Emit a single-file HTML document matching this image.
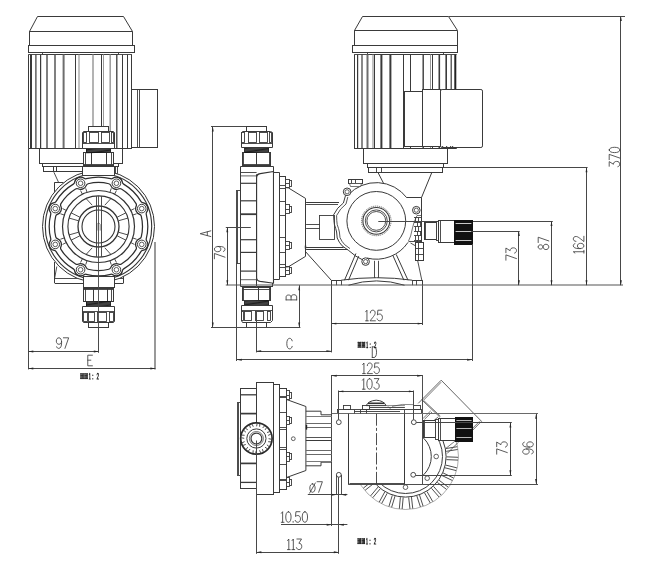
<!DOCTYPE html>
<html><head><meta charset="utf-8"><title>Pump drawing</title>
<style>
html,body{margin:0;padding:0;background:#fff;}
body{width:653px;height:569px;overflow:hidden;font-family:"Liberation Sans",sans-serif;}
svg{display:block;}
</style></head><body>
<svg width="653" height="569" viewBox="0 0 653 569">
<rect x="0" y="0" width="653" height="569" fill="#ffffff"/>
<path d="M37.5,16.5 L123.5,16.5 L132.5,31.5 L132.5,45.5 L29.5,45.5 L29.5,31.5 Z" stroke="#3a3a3a" stroke-width="1.0" fill="none"/>
<line x1="29.2" y1="31.5" x2="132.6" y2="31.5" stroke="#3a3a3a" stroke-width="1.0"/>
<rect x="28.5" y="45.5" width="106" height="7" stroke="#3a3a3a" stroke-width="1.0" fill="none"/>
<rect x="42.5" y="52.5" width="76" height="2" stroke="#3a3a3a" stroke-width="0.9" fill="none"/>
<line x1="28.3" y1="54.5" x2="131.9" y2="54.5" stroke="#3a3a3a" stroke-width="0.9"/>
<line x1="28.5" y1="54.5" x2="28.5" y2="148.7" stroke="#3a3a3a" stroke-width="1"/>
<line x1="31" y1="54.5" x2="31" y2="148.7" stroke="#3a3a3a" stroke-width="2"/>
<line x1="35.9" y1="54.5" x2="35.9" y2="148.7" stroke="#3a3a3a" stroke-width="1.2"/>
<line x1="40.6" y1="54.5" x2="40.6" y2="148.7" stroke="#3a3a3a" stroke-width="1.2"/>
<line x1="47" y1="54.5" x2="47" y2="148.7" stroke="#4a4a4a" stroke-width="1.4"/>
<line x1="55" y1="54.5" x2="55" y2="148.7" stroke="#4a4a4a" stroke-width="1.4"/>
<line x1="63.6" y1="54.5" x2="63.6" y2="148.7" stroke="#6e6e6e" stroke-width="2"/>
<line x1="75.5" y1="54.5" x2="75.5" y2="148.7" stroke="#3a3a3a" stroke-width="1"/>
<line x1="79" y1="54.5" x2="79" y2="148.7" stroke="#9a9a9a" stroke-width="1.2"/>
<line x1="93" y1="54.5" x2="93" y2="148.7" stroke="#9a9a9a" stroke-width="1.5"/>
<line x1="101.5" y1="54.5" x2="101.5" y2="148.7" stroke="#3a3a3a" stroke-width="1"/>
<line x1="103.5" y1="54.5" x2="103.5" y2="148.7" stroke="#9a9a9a" stroke-width="1"/>
<line x1="110.2" y1="54.5" x2="110.2" y2="148.7" stroke="#9a9a9a" stroke-width="1.5"/>
<line x1="116.8" y1="54.5" x2="116.8" y2="148.7" stroke="#3a3a3a" stroke-width="1.3"/>
<line x1="122.5" y1="54.5" x2="122.5" y2="148.7" stroke="#3a3a3a" stroke-width="1"/>
<line x1="127.5" y1="54.5" x2="127.5" y2="148.7" stroke="#3a3a3a" stroke-width="1"/>
<line x1="131.5" y1="54.5" x2="131.5" y2="148.7" stroke="#3a3a3a" stroke-width="1"/>
<line x1="28.3" y1="148.5" x2="131.9" y2="148.5" stroke="#3a3a3a" stroke-width="1.0"/>
<rect x="131.5" y="89.5" width="26" height="58" stroke="#3a3a3a" stroke-width="1.0" fill="none"/>
<line x1="137.5" y1="89.7" x2="137.5" y2="147.1" stroke="#3a3a3a" stroke-width="0.9"/>
<line x1="139.5" y1="89.7" x2="139.5" y2="147.1" stroke="#3a3a3a" stroke-width="0.9"/>
<rect x="39.5" y="148.5" width="83" height="15" stroke="#3a3a3a" stroke-width="1.0" fill="none"/>
<rect x="42.5" y="163.5" width="41" height="3" stroke="#3a3a3a" stroke-width="1.0" fill="none"/>
<rect x="43.5" y="166.5" width="40" height="5" stroke="#3a3a3a" stroke-width="1.0" fill="none"/>
<line x1="53.5" y1="166.8" x2="53.5" y2="171.9" stroke="#3a3a3a" stroke-width="1.0"/>
<line x1="56.5" y1="166.8" x2="56.5" y2="171.9" stroke="#3a3a3a" stroke-width="1.0"/>
<line x1="53.9" y1="172.2" x2="58.8" y2="182.9" stroke="#3a3a3a" stroke-width="0.9"/>
<rect x="113.5" y="163.5" width="5" height="3" stroke="#3a3a3a" stroke-width="1.0" fill="none"/>
<rect x="115.5" y="166.5" width="2" height="7" stroke="#3a3a3a" stroke-width="0.9" fill="none"/>
<line x1="54.5" y1="182.9" x2="54.5" y2="200" stroke="#3a3a3a" stroke-width="1.0"/>
<line x1="54.2" y1="182.5" x2="63.6" y2="182.5" stroke="#3a3a3a" stroke-width="1.0"/>
<line x1="54.5" y1="262" x2="54.5" y2="283" stroke="#3a3a3a" stroke-width="1.0"/>
<line x1="54.7" y1="283.5" x2="84" y2="283.5" stroke="#3a3a3a" stroke-width="1.0"/>
<line x1="56.8" y1="266.5" x2="54.7" y2="278" stroke="#3a3a3a" stroke-width="0.9"/>
<line x1="54.7" y1="278.5" x2="84" y2="278.5" stroke="#3a3a3a" stroke-width="0.9"/>
<line x1="114" y1="283.5" x2="123.5" y2="283.5" stroke="#3a3a3a" stroke-width="1.0"/>
<line x1="123.5" y1="275.6" x2="123.5" y2="283" stroke="#3a3a3a" stroke-width="1.0"/>
<line x1="114" y1="278.5" x2="123.5" y2="278.5" stroke="#3a3a3a" stroke-width="0.9"/>
<line x1="118.5" y1="268" x2="118.5" y2="278.2" stroke="#3a3a3a" stroke-width="0.9"/>
<circle cx="98.5" cy="226.5" r="56" stroke="#333" stroke-width="1.0" fill="#fff"/>
<circle cx="98.5" cy="226.5" r="53.2" stroke="#333" stroke-width="1.1" fill="none"/>
<path d="M146.27,238.68 A2.6,2.6 0 0,0 146.68,240.84 A6.1,6.1 0 0,1 142.71,250.43 A2.6,2.6 0 0,0 140.89,251.67 A49.3,49.3 0 0,1 123.67,268.89 A2.6,2.6 0 0,0 122.43,270.71 A6.1,6.1 0 0,1 112.84,274.68 A2.6,2.6 0 0,0 110.68,274.27 A49.3,49.3 0 0,1 86.32,274.27 A2.6,2.6 0 0,0 84.16,274.68 A6.1,6.1 0 0,1 74.57,270.71 A2.6,2.6 0 0,0 73.33,268.89 A49.3,49.3 0 0,1 56.11,251.67 A2.6,2.6 0 0,0 54.29,250.43 A6.1,6.1 0 0,1 50.32,240.84 A2.6,2.6 0 0,0 50.73,238.68 A49.3,49.3 0 0,1 50.73,214.32 A2.6,2.6 0 0,0 50.32,212.16 A6.1,6.1 0 0,1 54.29,202.57 A2.6,2.6 0 0,0 56.11,201.33 A49.3,49.3 0 0,1 73.33,184.11 A2.6,2.6 0 0,0 74.57,182.29 A6.1,6.1 0 0,1 84.16,178.32 A2.6,2.6 0 0,0 86.32,178.73 A49.3,49.3 0 0,1 110.68,178.73 A2.6,2.6 0 0,0 112.84,178.32 A6.1,6.1 0 0,1 122.43,182.29 A2.6,2.6 0 0,0 123.67,184.11 A49.3,49.3 0 0,1 140.89,201.33 A2.6,2.6 0 0,0 142.71,202.57 A6.1,6.1 0 0,1 146.68,212.16 A2.6,2.6 0 0,0 146.27,214.32 A49.3,49.3 0 0,1 146.27,238.68 Z" stroke="#2e2e2e" stroke-width="1.25" fill="none"/>
<path d="M141.26,236.86 A2.6,2.6 0 0,1 139.63,238.68 A6.1,6.1 0 0,0 136.2,246.97 A2.6,2.6 0 0,1 136.06,249.42 A44,44 0 0,1 121.42,264.06 A2.6,2.6 0 0,1 118.97,264.2 A6.1,6.1 0 0,0 110.68,267.63 A2.6,2.6 0 0,1 108.86,269.26 A44,44 0 0,1 88.14,269.26 A2.6,2.6 0 0,1 86.32,267.63 A6.1,6.1 0 0,0 78.03,264.2 A2.6,2.6 0 0,1 75.58,264.06 A44,44 0 0,1 60.94,249.42 A2.6,2.6 0 0,1 60.8,246.97 A6.1,6.1 0 0,0 57.37,238.68 A2.6,2.6 0 0,1 55.74,236.86 A44,44 0 0,1 55.74,216.14 A2.6,2.6 0 0,1 57.37,214.32 A6.1,6.1 0 0,0 60.8,206.03 A2.6,2.6 0 0,1 60.94,203.58 A44,44 0 0,1 75.58,188.94 A2.6,2.6 0 0,1 78.03,188.8 A6.1,6.1 0 0,0 86.32,185.37 A2.6,2.6 0 0,1 88.14,183.74 A44,44 0 0,1 108.86,183.74 A2.6,2.6 0 0,1 110.68,185.37 A6.1,6.1 0 0,0 118.97,188.8 A2.6,2.6 0 0,1 121.42,188.94 A44,44 0 0,1 136.06,203.58 A2.6,2.6 0 0,1 136.2,206.03 A6.1,6.1 0 0,0 139.63,214.32 A2.6,2.6 0 0,1 141.26,216.14 A44,44 0 0,1 141.26,236.86 Z" stroke="#2e2e2e" stroke-width="1.25" fill="none"/>
<circle cx="98.5" cy="226.5" r="36" stroke="#333" stroke-width="1.2" fill="none"/>
<circle cx="98.5" cy="226.5" r="30.6" stroke="#333" stroke-width="1.1" fill="none"/>
<circle cx="98.5" cy="226.5" r="20.5" stroke="#333" stroke-width="1.3" fill="none"/>
<circle cx="98.5" cy="226.5" r="16.5" stroke="#333" stroke-width="1.1" fill="none"/>
<line x1="132.83" y1="237.99" x2="136.62" y2="239.26" stroke="#3a3a3a" stroke-width="0.9"/>
<line x1="130.9" y1="242.65" x2="134.48" y2="244.44" stroke="#3a3a3a" stroke-width="0.9"/>
<line x1="114.65" y1="258.9" x2="116.44" y2="262.48" stroke="#3a3a3a" stroke-width="0.9"/>
<line x1="109.99" y1="260.83" x2="111.26" y2="264.62" stroke="#3a3a3a" stroke-width="0.9"/>
<line x1="87.01" y1="260.83" x2="85.74" y2="264.62" stroke="#3a3a3a" stroke-width="0.9"/>
<line x1="82.35" y1="258.9" x2="80.56" y2="262.48" stroke="#3a3a3a" stroke-width="0.9"/>
<line x1="66.1" y1="242.65" x2="62.52" y2="244.44" stroke="#3a3a3a" stroke-width="0.9"/>
<line x1="64.17" y1="237.99" x2="60.38" y2="239.26" stroke="#3a3a3a" stroke-width="0.9"/>
<line x1="64.17" y1="215.01" x2="60.38" y2="213.74" stroke="#3a3a3a" stroke-width="0.9"/>
<line x1="66.1" y1="210.35" x2="62.52" y2="208.56" stroke="#3a3a3a" stroke-width="0.9"/>
<line x1="82.35" y1="194.1" x2="80.56" y2="190.52" stroke="#3a3a3a" stroke-width="0.9"/>
<line x1="87.01" y1="192.17" x2="85.74" y2="188.38" stroke="#3a3a3a" stroke-width="0.9"/>
<line x1="109.99" y1="192.17" x2="111.26" y2="188.38" stroke="#3a3a3a" stroke-width="0.9"/>
<line x1="114.65" y1="194.1" x2="116.44" y2="190.52" stroke="#3a3a3a" stroke-width="0.9"/>
<line x1="130.9" y1="210.35" x2="134.48" y2="208.56" stroke="#3a3a3a" stroke-width="0.9"/>
<line x1="132.83" y1="215.01" x2="136.62" y2="213.74" stroke="#3a3a3a" stroke-width="0.9"/>
<line x1="86.5" y1="199" x2="92.2" y2="205.2" stroke="#3a3a3a" stroke-width="0.9"/>
<line x1="78.41" y1="220.74" x2="69.09" y2="218.07" stroke="#3a3a3a" stroke-width="0.9"/>
<line x1="79.8" y1="217.17" x2="71.12" y2="212.85" stroke="#3a3a3a" stroke-width="0.9"/>
<line x1="86.5" y1="254" x2="92.2" y2="247.8" stroke="#3a3a3a" stroke-width="0.9"/>
<line x1="78.41" y1="232.26" x2="69.09" y2="234.93" stroke="#3a3a3a" stroke-width="0.9"/>
<line x1="79.8" y1="235.83" x2="71.12" y2="240.15" stroke="#3a3a3a" stroke-width="0.9"/>
<line x1="110.5" y1="199" x2="104.8" y2="205.2" stroke="#3a3a3a" stroke-width="0.9"/>
<line x1="118.59" y1="220.74" x2="127.91" y2="218.07" stroke="#3a3a3a" stroke-width="0.9"/>
<line x1="117.2" y1="217.17" x2="125.88" y2="212.85" stroke="#3a3a3a" stroke-width="0.9"/>
<line x1="110.5" y1="254" x2="104.8" y2="247.8" stroke="#3a3a3a" stroke-width="0.9"/>
<line x1="118.59" y1="232.26" x2="127.91" y2="234.93" stroke="#3a3a3a" stroke-width="0.9"/>
<line x1="117.2" y1="235.83" x2="125.88" y2="240.15" stroke="#3a3a3a" stroke-width="0.9"/>
<circle cx="141.74" cy="244.41" r="4.3" stroke="#3a3a3a" stroke-width="1.0" fill="#fff"/>
<circle cx="141.74" cy="244.41" r="2.3" stroke="#444" stroke-width="0.85" fill="none"/>
<circle cx="116.41" cy="269.74" r="4.3" stroke="#3a3a3a" stroke-width="1.0" fill="#fff"/>
<circle cx="116.41" cy="269.74" r="2.3" stroke="#444" stroke-width="0.85" fill="none"/>
<circle cx="80.59" cy="269.74" r="4.3" stroke="#3a3a3a" stroke-width="1.0" fill="#fff"/>
<circle cx="80.59" cy="269.74" r="2.3" stroke="#444" stroke-width="0.85" fill="none"/>
<circle cx="55.26" cy="244.41" r="4.3" stroke="#3a3a3a" stroke-width="1.0" fill="#fff"/>
<circle cx="55.26" cy="244.41" r="2.3" stroke="#444" stroke-width="0.85" fill="none"/>
<circle cx="55.26" cy="208.59" r="4.3" stroke="#3a3a3a" stroke-width="1.0" fill="#fff"/>
<circle cx="55.26" cy="208.59" r="2.3" stroke="#444" stroke-width="0.85" fill="none"/>
<circle cx="80.59" cy="183.26" r="4.3" stroke="#3a3a3a" stroke-width="1.0" fill="#fff"/>
<circle cx="80.59" cy="183.26" r="2.3" stroke="#444" stroke-width="0.85" fill="none"/>
<circle cx="116.41" cy="183.26" r="4.3" stroke="#3a3a3a" stroke-width="1.0" fill="#fff"/>
<circle cx="116.41" cy="183.26" r="2.3" stroke="#444" stroke-width="0.85" fill="none"/>
<circle cx="141.74" cy="208.59" r="4.3" stroke="#3a3a3a" stroke-width="1.0" fill="#fff"/>
<circle cx="141.74" cy="208.59" r="2.3" stroke="#444" stroke-width="0.85" fill="none"/>
<line x1="96.5" y1="196.2" x2="96.5" y2="256.8" stroke="#3a3a3a" stroke-width="0.9"/>
<line x1="101.5" y1="196.2" x2="101.5" y2="256.8" stroke="#3a3a3a" stroke-width="0.9"/>
<line x1="98.5" y1="196" x2="98.5" y2="352.6" stroke="#484848" stroke-width="0.9"/>
<path d="M97.0,230.6 L97.0,224.6 Q98.6,221.4 100.2,224.6 L100.2,230.6" stroke="#3a3a3a" stroke-width="0.6" fill="none"/>
<rect x="82.5" y="166.5" width="32" height="9" stroke="#3a3a3a" stroke-width="1.0" fill="#fff"/>
<rect x="83.5" y="152.5" width="30" height="13" stroke="#3a3a3a" stroke-width="1.0" fill="#fff"/>
<line x1="85.5" y1="165.5" x2="85.5" y2="152.8" stroke="#3a3a3a" stroke-width="0.9"/>
<line x1="111.5" y1="165.5" x2="111.5" y2="152.8" stroke="#3a3a3a" stroke-width="0.9"/>
<line x1="91.5" y1="165.5" x2="91.5" y2="152.8" stroke="#3a3a3a" stroke-width="1.0"/>
<line x1="106.5" y1="165.5" x2="106.5" y2="152.8" stroke="#3a3a3a" stroke-width="1.0"/>
<line x1="83.8" y1="164.5" x2="113" y2="164.5" stroke="#3a3a3a" stroke-width="0.9"/>
<rect x="86.5" y="148.5" width="24" height="4" stroke="#3a3a3a" stroke-width="0.9" fill="#fff"/>
<line x1="86.1" y1="152.8" x2="110.7" y2="152" stroke="#111" stroke-width="0.9"/>
<line x1="86.1" y1="152" x2="110.7" y2="151.2" stroke="#111" stroke-width="0.9"/>
<line x1="86.1" y1="151.2" x2="110.7" y2="150.4" stroke="#111" stroke-width="0.9"/>
<line x1="86.1" y1="150.4" x2="110.7" y2="149.6" stroke="#111" stroke-width="0.9"/>
<line x1="86.1" y1="149.6" x2="110.7" y2="148.8" stroke="#111" stroke-width="0.9"/>
<line x1="86.1" y1="148.8" x2="110.7" y2="148" stroke="#111" stroke-width="0.9"/>
<path d="M82.5,148.5 L114.5,148.5 L114.5,132.5 L113.5,131.5 L83.5,131.5 L82.5,132.5 Z" stroke="#3a3a3a" stroke-width="1.0" fill="#fff"/>
<line x1="82.6" y1="143.5" x2="114.2" y2="143.5" stroke="#3a3a3a" stroke-width="0.9"/>
<rect x="83.5" y="132.5" width="3" height="10" stroke="#3a3a3a" stroke-width="0.9" fill="none"/>
<rect x="89.5" y="132.5" width="9" height="10" stroke="#3a3a3a" stroke-width="0.9" fill="none"/>
<rect x="101.5" y="132.5" width="8" height="10" stroke="#3a3a3a" stroke-width="0.9" fill="none"/>
<rect x="111.5" y="132.5" width="2" height="10" stroke="#3a3a3a" stroke-width="0.9" fill="none"/>
<rect x="88.5" y="126.5" width="20" height="5" stroke="#3a3a3a" stroke-width="1.0" fill="#fff"/>
<rect x="83.5" y="276.5" width="31" height="11" stroke="#3a3a3a" stroke-width="1.0" fill="#fff"/>
<rect x="83.5" y="288.5" width="30" height="13" stroke="#3a3a3a" stroke-width="1.0" fill="#fff"/>
<line x1="85.5" y1="288.7" x2="85.5" y2="301.4" stroke="#3a3a3a" stroke-width="0.9"/>
<line x1="111.5" y1="288.7" x2="111.5" y2="301.4" stroke="#3a3a3a" stroke-width="0.9"/>
<line x1="93.5" y1="288.7" x2="93.5" y2="301.4" stroke="#3a3a3a" stroke-width="1.0"/>
<line x1="107.5" y1="288.7" x2="107.5" y2="301.4" stroke="#3a3a3a" stroke-width="1.0"/>
<line x1="83.8" y1="289.5" x2="113" y2="289.5" stroke="#3a3a3a" stroke-width="0.9"/>
<rect x="86.5" y="301.5" width="24" height="5" stroke="#3a3a3a" stroke-width="0.9" fill="#fff"/>
<line x1="86.1" y1="302.2" x2="110.7" y2="301.4" stroke="#111" stroke-width="0.9"/>
<line x1="86.1" y1="303" x2="110.7" y2="302.2" stroke="#111" stroke-width="0.9"/>
<line x1="86.1" y1="303.8" x2="110.7" y2="303" stroke="#111" stroke-width="0.9"/>
<line x1="86.1" y1="304.6" x2="110.7" y2="303.8" stroke="#111" stroke-width="0.9"/>
<line x1="86.1" y1="305.4" x2="110.7" y2="304.6" stroke="#111" stroke-width="0.9"/>
<line x1="86.1" y1="306.2" x2="110.7" y2="305.4" stroke="#111" stroke-width="0.9"/>
<path d="M82.5,306.5 L114.5,306.5 L114.5,321.5 L113.5,322.5 L83.5,322.5 L82.5,321.5 Z" stroke="#3a3a3a" stroke-width="1.0" fill="#fff"/>
<line x1="82.6" y1="311.5" x2="114.2" y2="311.5" stroke="#3a3a3a" stroke-width="0.9"/>
<rect x="83.5" y="312.5" width="4" height="9" stroke="#3a3a3a" stroke-width="0.9" fill="none"/>
<rect x="88.5" y="312.5" width="6" height="9" stroke="#3a3a3a" stroke-width="0.9" fill="none"/>
<rect x="97.5" y="312.5" width="9" height="9" stroke="#3a3a3a" stroke-width="0.9" fill="none"/>
<rect x="109.5" y="312.5" width="4" height="9" stroke="#3a3a3a" stroke-width="0.9" fill="none"/>
<rect x="88.5" y="322.5" width="20" height="5" stroke="#3a3a3a" stroke-width="1.0" fill="#fff"/>
<line x1="98.5" y1="276" x2="98.5" y2="352.6" stroke="#484848" stroke-width="0.9"/>
<line x1="28.5" y1="148.7" x2="28.5" y2="369.4" stroke="#484848" stroke-width="1.0"/>
<line x1="155" y1="242" x2="155" y2="369.4" stroke="#808080" stroke-width="1.6"/>
<line x1="28.3" y1="351.5" x2="98.8" y2="351.5" stroke="#484848" stroke-width="1.0"/>
<path d="M28.3,351.5 L33.3,350.55 L33.3,352.45 Z" fill="#262626" stroke="none"/>
<path d="M98.8,351.5 L93.8,352.45 L93.8,350.55 Z" fill="#262626" stroke="none"/>
<line x1="28.3" y1="368.5" x2="155.4" y2="368.5" stroke="#484848" stroke-width="1.0"/>
<path d="M28.3,368.5 L33.3,367.55 L33.3,369.45 Z" fill="#262626" stroke="none"/>
<path d="M155.4,368.5 L150.4,369.45 L150.4,367.55 Z" fill="#262626" stroke="none"/>
<g transform="translate(62.5,343.1) rotate(0) scale(1.06,1.06) translate(-5.83,-5)" fill="none" stroke="#3c3c3c" stroke-width="0.8" stroke-linecap="round" stroke-linejoin="round"><path d="M5.5,3.5 C5.4,5 4.4,6.1 3,6.1 C1.5,6.1 0.5,5 0.5,3.1 C0.5,1.2 1.5,0 3,0 C4.5,0 5.5,1.5 5.5,4.5 C5.5,8 4.5,10 2.8,10 C1.8,10 1.1,9.5 0.8,8.5" transform="translate(-0.5,0)"/><path d="M0.5,0 L5.5,0 L2,10" transform="translate(6.15,0)"/></g>
<g transform="translate(90.1,360.5) rotate(0) scale(1.06,1.06) translate(-2.2,-5)" fill="none" stroke="#3c3c3c" stroke-width="0.8" stroke-linecap="round" stroke-linejoin="round"><path d="M5.2,0 L0.8,0 L0.8,10 L5.2,10 M0.8,4.7 L3.7,4.7" transform="translate(-0.8,0)"/></g>
<path d="M362.5,16.5 L448.5,16.5 L457.5,30.5 L457.5,45.5 L354.5,45.5 L354.5,30.5 Z" stroke="#3a3a3a" stroke-width="1.0" fill="none"/>
<line x1="354.2" y1="30.5" x2="457.2" y2="30.5" stroke="#3a3a3a" stroke-width="1.0"/>
<rect x="352.5" y="45.5" width="105" height="7" stroke="#3a3a3a" stroke-width="1.0" fill="none"/>
<rect x="367.5" y="52.5" width="76" height="2" stroke="#3a3a3a" stroke-width="0.9" fill="none"/>
<line x1="354.2" y1="54.5" x2="456.7" y2="54.5" stroke="#3a3a3a" stroke-width="0.9"/>
<line x1="354.5" y1="54.5" x2="354.5" y2="148.9" stroke="#3a3a3a" stroke-width="1"/>
<line x1="357.6" y1="54.5" x2="357.6" y2="148.9" stroke="#3a3a3a" stroke-width="1.2"/>
<line x1="362" y1="54.5" x2="362" y2="148.9" stroke="#3a3a3a" stroke-width="1.2"/>
<line x1="367.5" y1="54.5" x2="367.5" y2="148.9" stroke="#6e6e6e" stroke-width="2"/>
<line x1="373" y1="54.5" x2="373" y2="148.9" stroke="#9a9a9a" stroke-width="1.2"/>
<line x1="374.5" y1="54.5" x2="374.5" y2="148.9" stroke="#3a3a3a" stroke-width="1"/>
<line x1="381.4" y1="54.5" x2="381.4" y2="148.9" stroke="#3a3a3a" stroke-width="2"/>
<line x1="390.4" y1="54.5" x2="390.4" y2="148.9" stroke="#3a3a3a" stroke-width="2"/>
<line x1="403.5" y1="54.5" x2="403.5" y2="148.9" stroke="#3a3a3a" stroke-width="1"/>
<line x1="410.5" y1="54.5" x2="410.5" y2="148.9" stroke="#3a3a3a" stroke-width="1"/>
<line x1="423.2" y1="54.5" x2="423.2" y2="148.9" stroke="#3a3a3a" stroke-width="1.4"/>
<line x1="430.5" y1="54.5" x2="430.5" y2="148.9" stroke="#9a9a9a" stroke-width="1"/>
<line x1="432.5" y1="54.5" x2="432.5" y2="148.9" stroke="#3a3a3a" stroke-width="1"/>
<line x1="439.3" y1="54.5" x2="439.3" y2="148.9" stroke="#3a3a3a" stroke-width="1.6"/>
<line x1="446.2" y1="54.5" x2="446.2" y2="148.9" stroke="#3a3a3a" stroke-width="1.6"/>
<line x1="451.2" y1="54.5" x2="451.2" y2="148.9" stroke="#3a3a3a" stroke-width="1.2"/>
<line x1="455.3" y1="54.5" x2="455.3" y2="148.9" stroke="#222" stroke-width="2"/>
<line x1="354.2" y1="148.5" x2="456.7" y2="148.5" stroke="#3a3a3a" stroke-width="1.0"/>
<rect x="404.5" y="91.5" width="19" height="55" stroke="#3a3a3a" stroke-width="1.0" fill="#fff"/>
<rect x="422.5" y="89.5" width="18" height="57" stroke="#3a3a3a" stroke-width="1.0" fill="#fff"/>
<rect x="440.5" y="89.5" width="42" height="58" stroke="#3a3a3a" stroke-width="1.0" fill="#fff" rx="1.6"/>
<line x1="408" y1="146.5" x2="409.2" y2="146.5" stroke="#3a3a3a" stroke-width="0.9"/>
<line x1="412" y1="146.5" x2="413.2" y2="146.5" stroke="#3a3a3a" stroke-width="0.9"/>
<line x1="416" y1="146.5" x2="417.2" y2="146.5" stroke="#3a3a3a" stroke-width="0.9"/>
<line x1="420" y1="146.5" x2="421.2" y2="146.5" stroke="#3a3a3a" stroke-width="0.9"/>
<line x1="424" y1="146.5" x2="425.2" y2="146.5" stroke="#3a3a3a" stroke-width="0.9"/>
<line x1="426" y1="146.5" x2="427.2" y2="146.5" stroke="#3a3a3a" stroke-width="0.9"/>
<line x1="428" y1="146.5" x2="429.2" y2="146.5" stroke="#3a3a3a" stroke-width="0.9"/>
<line x1="430" y1="146.5" x2="431.2" y2="146.5" stroke="#3a3a3a" stroke-width="0.9"/>
<line x1="432" y1="146.5" x2="433.2" y2="146.5" stroke="#3a3a3a" stroke-width="0.9"/>
<line x1="434" y1="146.5" x2="435.2" y2="146.5" stroke="#3a3a3a" stroke-width="0.9"/>
<line x1="436" y1="146.5" x2="437.2" y2="146.5" stroke="#3a3a3a" stroke-width="0.9"/>
<line x1="438" y1="146.5" x2="439.2" y2="146.5" stroke="#3a3a3a" stroke-width="0.9"/>
<line x1="442" y1="146.5" x2="443.2" y2="146.5" stroke="#3a3a3a" stroke-width="0.9"/>
<line x1="446" y1="146.5" x2="447.2" y2="146.5" stroke="#3a3a3a" stroke-width="0.9"/>
<line x1="450" y1="146.5" x2="451.2" y2="146.5" stroke="#3a3a3a" stroke-width="0.9"/>
<line x1="452" y1="146.5" x2="453.2" y2="146.5" stroke="#3a3a3a" stroke-width="0.9"/>
<rect x="363.5" y="148.5" width="84" height="15" stroke="#3a3a3a" stroke-width="1.0" fill="#fff"/>
<rect x="367.5" y="163.5" width="76" height="4" stroke="#3a3a3a" stroke-width="1.0" fill="none"/>
<rect x="368.5" y="167.5" width="74" height="5" stroke="#3a3a3a" stroke-width="1.0" fill="none"/>
<line x1="376.5" y1="167.3" x2="376.5" y2="172.3" stroke="#3a3a3a" stroke-width="0.9"/>
<line x1="381.5" y1="167.3" x2="381.5" y2="172.3" stroke="#3a3a3a" stroke-width="0.9"/>
<line x1="377.9" y1="172.3" x2="383.6" y2="183.4" stroke="#3a3a3a" stroke-width="1.0"/>
<line x1="431.9" y1="172.3" x2="421.4" y2="197.8" stroke="#3a3a3a" stroke-width="1.0"/>
<line x1="407" y1="197.5" x2="421.4" y2="197.5" stroke="#3a3a3a" stroke-width="1.0"/>
<line x1="421.5" y1="197.8" x2="421.5" y2="242.1" stroke="#3a3a3a" stroke-width="1.0"/>
<path d="M348.29,194.78 A38.3,38.3 0 0,1 406.89,197.85" stroke="#3a3a3a" stroke-width="1.0" fill="none"/>
<path d="M408.05,242.32 A38.3,38.3 0 0,1 367.03,258.06" stroke="#3a3a3a" stroke-width="1.0" fill="none"/>
<path d="M345.6,195.2 L343.4,203 Q337,207.5 333.6,214.8 Q333.8,221 334.4,224.5 Q336,229 336.6,232 L337.2,238 Q339,242.5 342.1,245.8 L348.8,250.6 L355.6,256 L362.2,259.6" stroke="#3a3a3a" stroke-width="1.0" fill="none"/>
<path d="M347.8,197 L346,204 Q340,208.5 336.6,215.5 Q336.6,221 337.2,224.5 Q338.8,229 339.4,232 L340,237.6 Q341.6,241.4 344.6,244.6 L350,248.6" stroke="#3a3a3a" stroke-width="0.85" fill="none"/>
<circle cx="376.3" cy="220.9" r="29.4" stroke="#3a3a3a" stroke-width="1.0" fill="none"/>
<circle cx="376.3" cy="220.9" r="14.8" stroke="#3a3a3a" stroke-width="0.7" fill="none" stroke-dasharray="1.2 0.8"/>
<circle cx="376.3" cy="220.9" r="13.4" stroke="#3a3a3a" stroke-width="1.1" fill="none"/>
<circle cx="376.3" cy="220.9" r="11" stroke="#3a3a3a" stroke-width="0.9" fill="none"/>
<circle cx="376.3" cy="220.9" r="9.4" stroke="#3a3a3a" stroke-width="0.9" fill="none"/>
<circle cx="347.1" cy="191.8" r="3.8" stroke="#3a3a3a" stroke-width="1.0" fill="#fff"/>
<circle cx="347.1" cy="191.8" r="2.1" stroke="#3a3a3a" stroke-width="0.8" fill="none"/>
<circle cx="416.3" cy="210.2" r="3.8" stroke="#3a3a3a" stroke-width="1.0" fill="#fff"/>
<circle cx="416.3" cy="210.2" r="2.1" stroke="#3a3a3a" stroke-width="0.8" fill="none"/>
<circle cx="365.6" cy="261.6" r="3.8" stroke="#3a3a3a" stroke-width="1.0" fill="#fff"/>
<circle cx="365.6" cy="261.6" r="2.1" stroke="#3a3a3a" stroke-width="0.8" fill="none"/>
<rect x="348.5" y="179.5" width="14" height="4" stroke="#3a3a3a" stroke-width="1.0" fill="#fff"/>
<line x1="355.5" y1="179.4" x2="355.5" y2="183.6" stroke="#3a3a3a" stroke-width="0.9"/>
<line x1="351.5" y1="179.4" x2="351.5" y2="183.6" stroke="#3a3a3a" stroke-width="0.9"/>
<path d="M349.5,183.5 L361.5,183.5 L360.5,186.5 L350.5,186.5 Z" stroke="#3a3a3a" stroke-width="0.7" fill="#fff"/>
<line x1="414" y1="217.5" x2="421.4" y2="217.5" stroke="#3a3a3a" stroke-width="0.9"/>
<line x1="415.5" y1="217.5" x2="415.5" y2="222" stroke="#3a3a3a" stroke-width="0.9"/>
<line x1="418.5" y1="217.5" x2="418.5" y2="222" stroke="#3a3a3a" stroke-width="0.9"/>
<line x1="414" y1="222.5" x2="421.4" y2="222.5" stroke="#3a3a3a" stroke-width="0.9"/>
<line x1="417.5" y1="222" x2="417.5" y2="226.5" stroke="#3a3a3a" stroke-width="0.9"/>
<line x1="420.5" y1="222" x2="420.5" y2="226.5" stroke="#3a3a3a" stroke-width="0.9"/>
<line x1="414" y1="226.5" x2="421.4" y2="226.5" stroke="#3a3a3a" stroke-width="0.9"/>
<line x1="415.5" y1="226.5" x2="415.5" y2="231" stroke="#3a3a3a" stroke-width="0.9"/>
<line x1="418.5" y1="226.5" x2="418.5" y2="231" stroke="#3a3a3a" stroke-width="0.9"/>
<line x1="414" y1="231.5" x2="421.4" y2="231.5" stroke="#3a3a3a" stroke-width="0.9"/>
<line x1="417.5" y1="231" x2="417.5" y2="235.5" stroke="#3a3a3a" stroke-width="0.9"/>
<line x1="420.5" y1="231" x2="420.5" y2="235.5" stroke="#3a3a3a" stroke-width="0.9"/>
<line x1="414" y1="235.5" x2="421.4" y2="235.5" stroke="#3a3a3a" stroke-width="0.9"/>
<line x1="415.5" y1="235.5" x2="415.5" y2="240" stroke="#3a3a3a" stroke-width="0.9"/>
<line x1="418.5" y1="235.5" x2="418.5" y2="240" stroke="#3a3a3a" stroke-width="0.9"/>
<line x1="414" y1="240.5" x2="421.4" y2="240.5" stroke="#3a3a3a" stroke-width="0.9"/>
<line x1="417.5" y1="240" x2="417.5" y2="244.5" stroke="#3a3a3a" stroke-width="0.9"/>
<line x1="420.5" y1="240" x2="420.5" y2="244.5" stroke="#3a3a3a" stroke-width="0.9"/>
<path d="M421.4,215.5 L417.0,215.5 Q413.5,222 412.0,230 Q411.0,236.5 408.5,241.0" stroke="#3a3a3a" stroke-width="0.7" fill="none"/>
<line x1="408.5" y1="241.5" x2="421.4" y2="241.5" stroke="#3a3a3a" stroke-width="0.9"/>
<rect x="415.5" y="242.5" width="8" height="18" stroke="#3a3a3a" stroke-width="1.0" fill="#fff"/>
<line x1="418.5" y1="242.1" x2="418.5" y2="260.6" stroke="#3a3a3a" stroke-width="0.9"/>
<line x1="415.8" y1="248.5" x2="423.2" y2="248.5" stroke="#3a3a3a" stroke-width="0.9"/>
<line x1="415.8" y1="254.5" x2="423.2" y2="254.5" stroke="#3a3a3a" stroke-width="0.9"/>
<line x1="417.7" y1="260.8" x2="421.8" y2="280.2" stroke="#3a3a3a" stroke-width="0.9"/>
<line x1="410.5" y1="243" x2="415.8" y2="246" stroke="#3a3a3a" stroke-width="0.9"/>
<line x1="378.3" y1="221.5" x2="552.8" y2="221.5" stroke="#484848" stroke-width="1.0"/>
<line x1="306.1" y1="202.5" x2="339" y2="202.5" stroke="#3a3a3a" stroke-width="1.0"/>
<line x1="306.1" y1="204.5" x2="338" y2="204.5" stroke="#3a3a3a" stroke-width="0.9"/>
<line x1="306.1" y1="224.5" x2="319.9" y2="224.5" stroke="#3a3a3a" stroke-width="0.9"/>
<line x1="306.1" y1="228.5" x2="319.9" y2="228.5" stroke="#3a3a3a" stroke-width="0.9"/>
<rect x="319.5" y="215.5" width="15" height="24" stroke="#3a3a3a" stroke-width="0.9" fill="none"/>
<line x1="306.1" y1="247.5" x2="343.6" y2="247.5" stroke="#3a3a3a" stroke-width="1.0"/>
<line x1="306.1" y1="249.5" x2="347.6" y2="249.5" stroke="#3a3a3a" stroke-width="1.0"/>
<line x1="305.5" y1="245.6" x2="305.5" y2="248.6" stroke="#222" stroke-width="1.4"/>
<line x1="305.5" y1="251.6" x2="331.4" y2="280.4" stroke="#3a3a3a" stroke-width="1.0"/>
<line x1="355.9" y1="253.5" x2="344.5" y2="280.2" stroke="#3a3a3a" stroke-width="1.0"/>
<line x1="358.7" y1="256.2" x2="348.5" y2="280.2" stroke="#3a3a3a" stroke-width="1.0"/>
<line x1="392.8" y1="255.3" x2="403.9" y2="280.2" stroke="#3a3a3a" stroke-width="1.0"/>
<line x1="396.2" y1="254.4" x2="408" y2="280.2" stroke="#3a3a3a" stroke-width="1.0"/>
<line x1="374.5" y1="260.8" x2="374.5" y2="277.9" stroke="#3a3a3a" stroke-width="0.9"/>
<line x1="378.5" y1="260.8" x2="378.5" y2="277.9" stroke="#3a3a3a" stroke-width="0.9"/>
<line x1="331.4" y1="280.5" x2="341.2" y2="280.5" stroke="#3a3a3a" stroke-width="1.0"/>
<line x1="412.2" y1="280.5" x2="422.7" y2="280.5" stroke="#3a3a3a" stroke-width="1.0"/>
<line x1="331.5" y1="280.2" x2="331.5" y2="285.2" stroke="#3a3a3a" stroke-width="1.0"/>
<line x1="422.5" y1="280.2" x2="422.5" y2="285.2" stroke="#3a3a3a" stroke-width="1.0"/>
<line x1="336.5" y1="280.2" x2="336.5" y2="285.2" stroke="#3a3a3a" stroke-width="0.9"/>
<line x1="341.5" y1="280.2" x2="341.5" y2="285.2" stroke="#3a3a3a" stroke-width="0.9"/>
<line x1="412.5" y1="280.2" x2="412.5" y2="285.2" stroke="#3a3a3a" stroke-width="0.9"/>
<line x1="416.5" y1="280.2" x2="416.5" y2="285.2" stroke="#3a3a3a" stroke-width="0.9"/>
<path d="M341.2,280.2 Q376.5,275.2 412.2,280.2" stroke="#3a3a3a" stroke-width="1.0" fill="none"/>
<path d="M348.5,285.2 Q376.5,276.6 404.5,285.2" stroke="#3a3a3a" stroke-width="1.0" fill="none"/>
<rect x="424.5" y="222.5" width="12" height="17" stroke="#3a3a3a" stroke-width="1.0" fill="#fff"/>
<line x1="425.5" y1="222.8" x2="425.5" y2="239.7" stroke="#3a3a3a" stroke-width="0.9"/>
<rect x="436.5" y="221.5" width="2" height="19" stroke="#3a3a3a" stroke-width="0.9" fill="#fff"/>
<rect x="438.5" y="220.5" width="16" height="22" stroke="#3a3a3a" stroke-width="1.0" fill="#fff"/>
<line x1="440.5" y1="220.5" x2="440.5" y2="242.1" stroke="#3a3a3a" stroke-width="0.9"/>
<rect x="454.5" y="220.5" width="18" height="24" stroke="#111" stroke-width="1.0" fill="#111"/>
<line x1="455.6" y1="223.5" x2="471.4" y2="223.5" stroke="#ddd" stroke-width="0.9"/>
<line x1="455.6" y1="231.5" x2="471.4" y2="231.5" stroke="#ddd" stroke-width="0.9"/>
<line x1="455.6" y1="240.5" x2="471.4" y2="240.5" stroke="#ddd" stroke-width="0.9"/>
<line x1="472.1" y1="231.5" x2="519.7" y2="231.5" stroke="#484848" stroke-width="1.0"/>
<path d="M240.5,166.5 L273.5,166.5 L273.5,172.5 L256.5,174.5 L256.5,286.5 L240.5,286.5 Z" stroke="#3a3a3a" stroke-width="1.0" fill="#fff"/>
<line x1="240.5" y1="175.9" x2="256.5" y2="175.9" stroke="#3a3a3a" stroke-width="0.8"/>
<line x1="240.5" y1="183.3" x2="256.5" y2="183.3" stroke="#3a3a3a" stroke-width="1.2"/>
<line x1="240.5" y1="200.8" x2="256.5" y2="200.8" stroke="#3a3a3a" stroke-width="1.2"/>
<line x1="240.5" y1="214.2" x2="256.5" y2="214.2" stroke="#3a3a3a" stroke-width="1.8"/>
<line x1="240.5" y1="239.7" x2="256.5" y2="239.7" stroke="#3a3a3a" stroke-width="1.2"/>
<line x1="240.5" y1="252.4" x2="256.5" y2="252.4" stroke="#3a3a3a" stroke-width="1.2"/>
<line x1="240.5" y1="271.1" x2="256.5" y2="271.1" stroke="#3a3a3a" stroke-width="1.2"/>
<line x1="240.5" y1="279.7" x2="256.5" y2="279.7" stroke="#3a3a3a" stroke-width="0.8"/>
<line x1="240.6" y1="172.5" x2="256.6" y2="172.5" stroke="#3a3a3a" stroke-width="0.9"/>
<line x1="236.5" y1="190.7" x2="236.5" y2="263.7" stroke="#3a3a3a" stroke-width="0.9"/>
<line x1="237.5" y1="190.7" x2="237.5" y2="263.7" stroke="#3a3a3a" stroke-width="0.9"/>
<line x1="236" y1="190.5" x2="240.6" y2="190.5" stroke="#3a3a3a" stroke-width="0.9"/>
<line x1="236" y1="263.5" x2="240.6" y2="263.5" stroke="#3a3a3a" stroke-width="0.9"/>
<path d="M273.5,171.5 L260.2,173.6 Q256.6,174.2 256.6,178.0 L256.6,277.4 Q256.6,280.8 260.2,281.4 L273.5,283.2 Z" stroke="#333" stroke-width="1.1" fill="#fff"/>
<path d="M273.5,172.5 L279.5,172.5 L279.5,279.5 L273.5,279.5 Z" stroke="#3a3a3a" stroke-width="1.0" fill="#fff"/>
<line x1="256.6" y1="286.5" x2="272.9" y2="286.5" stroke="#3a3a3a" stroke-width="1.0"/>
<line x1="272.5" y1="283" x2="272.5" y2="286.8" stroke="#3a3a3a" stroke-width="1.0"/>
<rect x="279.5" y="176.5" width="6" height="100" stroke="#3a3a3a" stroke-width="1.0" fill="#fff"/>
<line x1="279.4" y1="185.5" x2="285.8" y2="185.5" stroke="#3a3a3a" stroke-width="0.9"/>
<line x1="279.4" y1="188.5" x2="285.8" y2="188.5" stroke="#3a3a3a" stroke-width="0.9"/>
<line x1="279.4" y1="201.5" x2="285.8" y2="201.5" stroke="#3a3a3a" stroke-width="0.9"/>
<line x1="279.4" y1="215.5" x2="285.8" y2="215.5" stroke="#3a3a3a" stroke-width="0.9"/>
<line x1="279.4" y1="237.5" x2="285.8" y2="237.5" stroke="#3a3a3a" stroke-width="0.9"/>
<line x1="279.4" y1="252.5" x2="285.8" y2="252.5" stroke="#3a3a3a" stroke-width="0.9"/>
<line x1="279.4" y1="264.5" x2="285.8" y2="264.5" stroke="#3a3a3a" stroke-width="0.9"/>
<line x1="279.4" y1="267.5" x2="285.8" y2="267.5" stroke="#3a3a3a" stroke-width="0.9"/>
<rect x="285.5" y="179.5" width="4" height="8" stroke="#3a3a3a" stroke-width="0.9" fill="#fff"/>
<rect x="289.5" y="180.5" width="2" height="6" stroke="#3a3a3a" stroke-width="0.9" fill="#fff"/>
<line x1="285.8" y1="183.5" x2="289.2" y2="183.5" stroke="#3a3a3a" stroke-width="0.9"/>
<rect x="285.5" y="204.5" width="4" height="9" stroke="#3a3a3a" stroke-width="0.9" fill="#fff"/>
<rect x="289.5" y="206.5" width="2" height="6" stroke="#3a3a3a" stroke-width="0.9" fill="#fff"/>
<line x1="285.8" y1="209.5" x2="289.2" y2="209.5" stroke="#3a3a3a" stroke-width="0.9"/>
<rect x="285.5" y="241.5" width="4" height="8" stroke="#3a3a3a" stroke-width="0.9" fill="#fff"/>
<rect x="289.5" y="242.5" width="2" height="6" stroke="#3a3a3a" stroke-width="0.9" fill="#fff"/>
<line x1="285.8" y1="245.5" x2="289.2" y2="245.5" stroke="#3a3a3a" stroke-width="0.9"/>
<rect x="285.5" y="266.5" width="4" height="8" stroke="#3a3a3a" stroke-width="0.9" fill="#fff"/>
<rect x="289.5" y="267.5" width="2" height="6" stroke="#3a3a3a" stroke-width="0.9" fill="#fff"/>
<line x1="285.8" y1="270.5" x2="289.2" y2="270.5" stroke="#3a3a3a" stroke-width="0.9"/>
<path d="M285.8,187.6 L288.4,187.9 L305.5,198.4 L305.5,256.4 L288.4,266.8 L285.8,267.0" stroke="#3a3a3a" stroke-width="1.0" fill="none"/>
<rect x="242.5" y="152.5" width="28" height="13" stroke="#3a3a3a" stroke-width="1.0" fill="#fff"/>
<line x1="243.5" y1="165.2" x2="243.5" y2="152.5" stroke="#3a3a3a" stroke-width="0.9"/>
<line x1="269.5" y1="165.2" x2="269.5" y2="152.5" stroke="#3a3a3a" stroke-width="0.9"/>
<line x1="256.5" y1="165.2" x2="256.5" y2="152.5" stroke="#3a3a3a" stroke-width="1.0"/>
<line x1="242.22" y1="164.5" x2="270.98" y2="164.5" stroke="#3a3a3a" stroke-width="0.9"/>
<rect x="244.5" y="147.5" width="24" height="5" stroke="#3a3a3a" stroke-width="0.9" fill="#fff"/>
<line x1="244.48" y1="152.5" x2="268.72" y2="151.7" stroke="#111" stroke-width="0.9"/>
<line x1="244.48" y1="151.7" x2="268.72" y2="150.9" stroke="#111" stroke-width="0.9"/>
<line x1="244.48" y1="150.9" x2="268.72" y2="150.1" stroke="#111" stroke-width="0.9"/>
<line x1="244.48" y1="150.1" x2="268.72" y2="149.3" stroke="#111" stroke-width="0.9"/>
<line x1="244.48" y1="149.3" x2="268.72" y2="148.5" stroke="#111" stroke-width="0.9"/>
<line x1="244.48" y1="148.5" x2="268.72" y2="147.7" stroke="#111" stroke-width="0.9"/>
<path d="M241.5,147.5 L272.5,147.5 L272.5,132.5 L270.5,131.5 L242.5,131.5 L241.5,132.5 Z" stroke="#3a3a3a" stroke-width="1.0" fill="#fff"/>
<line x1="241.04" y1="143.5" x2="272.16" y2="143.5" stroke="#3a3a3a" stroke-width="0.9"/>
<rect x="241.5" y="132.5" width="3" height="10" stroke="#3a3a3a" stroke-width="0.9" fill="none"/>
<rect x="248.5" y="132.5" width="8" height="10" stroke="#3a3a3a" stroke-width="0.9" fill="none"/>
<rect x="259.5" y="132.5" width="8" height="10" stroke="#3a3a3a" stroke-width="0.9" fill="none"/>
<rect x="269.5" y="132.5" width="2" height="10" stroke="#3a3a3a" stroke-width="0.9" fill="none"/>
<rect x="246.5" y="126.5" width="20" height="5" stroke="#3a3a3a" stroke-width="1.0" fill="#fff"/>
<rect x="242.5" y="287.5" width="28" height="13" stroke="#3a3a3a" stroke-width="1.0" fill="#fff"/>
<line x1="243.5" y1="287.9" x2="243.5" y2="300.6" stroke="#3a3a3a" stroke-width="0.9"/>
<line x1="269.5" y1="287.9" x2="269.5" y2="300.6" stroke="#3a3a3a" stroke-width="0.9"/>
<line x1="258.5" y1="287.9" x2="258.5" y2="300.6" stroke="#3a3a3a" stroke-width="1.0"/>
<line x1="242.22" y1="289.5" x2="270.98" y2="289.5" stroke="#3a3a3a" stroke-width="0.9"/>
<rect x="244.5" y="300.5" width="24" height="5" stroke="#3a3a3a" stroke-width="0.9" fill="#fff"/>
<line x1="244.48" y1="301.4" x2="268.72" y2="300.6" stroke="#111" stroke-width="0.9"/>
<line x1="244.48" y1="302.2" x2="268.72" y2="301.4" stroke="#111" stroke-width="0.9"/>
<line x1="244.48" y1="303" x2="268.72" y2="302.2" stroke="#111" stroke-width="0.9"/>
<line x1="244.48" y1="303.8" x2="268.72" y2="303" stroke="#111" stroke-width="0.9"/>
<line x1="244.48" y1="304.6" x2="268.72" y2="303.8" stroke="#111" stroke-width="0.9"/>
<line x1="244.48" y1="305.4" x2="268.72" y2="304.6" stroke="#111" stroke-width="0.9"/>
<path d="M241.5,305.5 L272.5,305.5 L272.5,320.5 L270.5,322.5 L242.5,322.5 L241.5,320.5 Z" stroke="#3a3a3a" stroke-width="1.0" fill="#fff"/>
<line x1="241.04" y1="310.5" x2="272.16" y2="310.5" stroke="#3a3a3a" stroke-width="0.9"/>
<rect x="241.5" y="311.5" width="2" height="9" stroke="#3a3a3a" stroke-width="0.9" fill="none"/>
<rect x="244.5" y="311.5" width="7" height="9" stroke="#3a3a3a" stroke-width="0.9" fill="none"/>
<rect x="255.5" y="311.5" width="8" height="9" stroke="#3a3a3a" stroke-width="0.9" fill="none"/>
<rect x="267.5" y="311.5" width="3" height="9" stroke="#3a3a3a" stroke-width="0.9" fill="none"/>
<rect x="246.5" y="322.5" width="20" height="5" stroke="#3a3a3a" stroke-width="1.0" fill="#fff"/>
<line x1="225.8" y1="285" x2="623" y2="285" stroke="#555" stroke-width="1.2"/>
<line x1="211" y1="126.5" x2="246.2" y2="126.5" stroke="#484848" stroke-width="1.0"/>
<line x1="211" y1="327.5" x2="300.4" y2="327.5" stroke="#484848" stroke-width="1.0"/>
<line x1="212.5" y1="126.4" x2="212.5" y2="327.5" stroke="#484848" stroke-width="1.0"/>
<path d="M212.8,126.4 L213.75,131.4 L211.85,131.4 Z" fill="#262626" stroke="none"/>
<path d="M212.8,327.5 L211.85,322.5 L213.75,322.5 Z" fill="#262626" stroke="none"/>
<line x1="225.8" y1="227.5" x2="250.8" y2="227.5" stroke="#484848" stroke-width="1.0"/>
<line x1="227.5" y1="227.3" x2="227.5" y2="285.2" stroke="#484848" stroke-width="1.0"/>
<path d="M227.3,227.3 L228.25,232.3 L226.35,232.3 Z" fill="#262626" stroke="none"/>
<path d="M227.3,285.2 L226.35,280.2 L228.25,280.2 Z" fill="#262626" stroke="none"/>
<line x1="299.5" y1="285.2" x2="299.5" y2="327.5" stroke="#484848" stroke-width="1.0"/>
<path d="M299.2,285.2 L300.15,290.2 L298.25,290.2 Z" fill="#262626" stroke="none"/>
<path d="M299.2,327.5 L298.25,322.5 L300.15,322.5 Z" fill="#262626" stroke="none"/>
<line x1="256.5" y1="312" x2="256.5" y2="352.4" stroke="#484848" stroke-width="1.0"/>
<line x1="331.5" y1="285.2" x2="331.5" y2="352.4" stroke="#484848" stroke-width="1.0"/>
<line x1="256.2" y1="351.5" x2="331.4" y2="351.5" stroke="#484848" stroke-width="1.0"/>
<path d="M256.2,351.1 L261.2,350.15 L261.2,352.05 Z" fill="#262626" stroke="none"/>
<path d="M331.4,351.1 L326.4,352.05 L326.4,350.15 Z" fill="#262626" stroke="none"/>
<line x1="236.5" y1="263.7" x2="236.5" y2="361" stroke="#484848" stroke-width="1.0"/>
<line x1="472.5" y1="244" x2="472.5" y2="361" stroke="#484848" stroke-width="1.0"/>
<line x1="236.8" y1="359.5" x2="472.1" y2="359.5" stroke="#484848" stroke-width="1.0"/>
<path d="M236.8,359.7 L241.8,358.75 L241.8,360.65 Z" fill="#262626" stroke="none"/>
<path d="M472.1,359.7 L467.1,360.65 L467.1,358.75 Z" fill="#262626" stroke="none"/>
<line x1="422.5" y1="285.2" x2="422.5" y2="325" stroke="#484848" stroke-width="1.0"/>
<line x1="331.4" y1="323.5" x2="422.7" y2="323.5" stroke="#484848" stroke-width="1.0"/>
<path d="M331.4,323.6 L336.4,322.65 L336.4,324.55 Z" fill="#262626" stroke="none"/>
<path d="M422.7,323.6 L417.7,324.55 L417.7,322.65 Z" fill="#262626" stroke="none"/>
<line x1="518.5" y1="231.1" x2="518.5" y2="285.2" stroke="#484848" stroke-width="1.0"/>
<path d="M518.9,231.1 L519.85,236.1 L517.95,236.1 Z" fill="#262626" stroke="none"/>
<path d="M518.9,285.2 L517.95,280.2 L519.85,280.2 Z" fill="#262626" stroke="none"/>
<line x1="551.5" y1="221" x2="551.5" y2="285.2" stroke="#484848" stroke-width="1.0"/>
<path d="M551.5,221 L552.45,226 L550.55,226 Z" fill="#262626" stroke="none"/>
<path d="M551.5,285.2 L550.55,280.2 L552.45,280.2 Z" fill="#262626" stroke="none"/>
<line x1="443.5" y1="167.5" x2="587.6" y2="167.5" stroke="#484848" stroke-width="1.0"/>
<line x1="586.5" y1="167.3" x2="586.5" y2="285.2" stroke="#484848" stroke-width="1.0"/>
<path d="M586.5,167.3 L587.45,172.3 L585.55,172.3 Z" fill="#262626" stroke="none"/>
<path d="M586.5,285.2 L585.55,280.2 L587.45,280.2 Z" fill="#262626" stroke="none"/>
<line x1="448.7" y1="16.5" x2="625" y2="16.5" stroke="#484848" stroke-width="1.0"/>
<line x1="620.5" y1="16" x2="620.5" y2="285.2" stroke="#484848" stroke-width="1.0"/>
<path d="M620.9,16 L621.85,21 L619.95,21 Z" fill="#262626" stroke="none"/>
<path d="M620.9,285.2 L619.95,280.2 L621.85,280.2 Z" fill="#262626" stroke="none"/>
<g transform="translate(205.5,233.7) rotate(-90) scale(1.06,1.06) translate(-2.7,-5)" fill="none" stroke="#3c3c3c" stroke-width="0.8" stroke-linecap="round" stroke-linejoin="round"><path d="M0.3,10 L3,0 L5.7,10 M1.3,6.7 L4.7,6.7" transform="translate(-0.3,0)"/></g>
<g transform="translate(219.7,252.6) rotate(-90) scale(1.06,1.06) translate(-5.83,-5)" fill="none" stroke="#3c3c3c" stroke-width="0.8" stroke-linecap="round" stroke-linejoin="round"><path d="M0.5,0 L5.5,0 L2,10" transform="translate(-0.5,0)"/><path d="M5.5,3.5 C5.4,5 4.4,6.1 3,6.1 C1.5,6.1 0.5,5 0.5,3.1 C0.5,1.2 1.5,0 3,0 C4.5,0 5.5,1.5 5.5,4.5 C5.5,8 4.5,10 2.8,10 C1.8,10 1.1,9.5 0.8,8.5" transform="translate(6.15,0)"/></g>
<g transform="translate(291.4,297.3) rotate(-90) scale(1.06,1.06) translate(-2.45,-5)" fill="none" stroke="#3c3c3c" stroke-width="0.8" stroke-linecap="round" stroke-linejoin="round"><path d="M0.7,0 L0.7,10 M0.7,0 L3.5,0 C4.8,0 5.3,1 5.3,2.3 C5.3,3.8 4.6,4.7 3.5,4.7 L0.7,4.7 M3.5,4.7 C4.9,4.7 5.6,5.8 5.6,7.3 C5.6,8.9 4.9,10 3.5,10 L0.7,10" transform="translate(-0.7,0)"/></g>
<g transform="translate(289.5,343.6) rotate(0) scale(1.06,1.06) translate(-2.55,-5)" fill="none" stroke="#3c3c3c" stroke-width="0.8" stroke-linecap="round" stroke-linejoin="round"><path d="M5.6,2.4 C5.2,0.9 4.3,0 3.2,0 C1.5,0 0.5,2 0.5,5 C0.5,8 1.5,10 3.2,10 C4.3,10 5.2,9.1 5.6,7.6" transform="translate(-0.5,0)"/></g>
<g transform="translate(374.4,352.2) rotate(0) scale(0.87,1.06) translate(-2.45,-5)" fill="none" stroke="#3c3c3c" stroke-width="0.88" stroke-linecap="round" stroke-linejoin="round"><path d="M0.7,0 L0.7,10 M0.7,0 L2.7,0 C4.6,0 5.6,2 5.6,5 C5.6,8 4.6,10 2.7,10 L0.7,10" transform="translate(-0.7,0)"/></g>
<g transform="translate(374,315.5) rotate(0) scale(1.06,1.06) translate(-7.95,-5)" fill="none" stroke="#3c3c3c" stroke-width="0.8" stroke-linecap="round" stroke-linejoin="round"><path d="M1.6,1.5 L2.8,0 L2.8,10 M1.5,10 L4.1,10" transform="translate(-1.5,0)"/><path d="M0.7,2.5 C0.7,1 1.7,0 3,0 C4.5,0 5.3,1 5.3,2.5 C5.3,4.2 4.3,5.3 0.5,10 L5.5,10" transform="translate(3.75,0)"/><path d="M5,0 L1.2,0 L0.8,4.5 C1.5,3.8 2.3,3.6 3,3.6 C4.5,3.6 5.5,5 5.5,6.8 C5.5,8.8 4.3,10 3,10 C1.7,10 0.8,9.3 0.5,8.2" transform="translate(10.4,0)"/></g>
<g transform="translate(511.2,254) rotate(-90) scale(1.06,1.06) translate(-5.83,-5)" fill="none" stroke="#3c3c3c" stroke-width="0.8" stroke-linecap="round" stroke-linejoin="round"><path d="M0.5,0 L5.5,0 L2,10" transform="translate(-0.5,0)"/><path d="M0.9,0 L5.3,0 L2.8,4 C4.5,4 5.5,5.2 5.5,7 C5.5,9 4.3,10 3,10 C1.7,10 0.8,9.3 0.5,8.2" transform="translate(6.15,0)"/></g>
<g transform="translate(543.5,243.4) rotate(-90) scale(1.06,1.06) translate(-5.83,-5)" fill="none" stroke="#3c3c3c" stroke-width="0.8" stroke-linecap="round" stroke-linejoin="round"><path d="M3,0 C1.7,0 1,0.9 1,2.2 C1,3.5 1.8,4.2 3,4.5 C4.6,4.9 5.5,5.8 5.5,7.3 C5.5,8.9 4.4,10 3,10 C1.6,10 0.5,8.9 0.5,7.3 C0.5,5.8 1.4,4.9 3,4.5 C4.2,4.2 5,3.5 5,2.2 C5,0.9 4.3,0 3,0" transform="translate(-0.5,0)"/><path d="M0.5,0 L5.5,0 L2,10" transform="translate(6.15,0)"/></g>
<g transform="translate(578.6,244.7) rotate(-90) scale(1.06,1.06) translate(-7.95,-5)" fill="none" stroke="#3c3c3c" stroke-width="0.8" stroke-linecap="round" stroke-linejoin="round"><path d="M1.6,1.5 L2.8,0 L2.8,10 M1.5,10 L4.1,10" transform="translate(-1.5,0)"/><path d="M5.2,1.5 C4.9,0.5 4.2,0 3.2,0 C1.5,0 0.5,2 0.5,5.5 C0.5,8.5 1.5,10 3,10 C4.5,10 5.5,8.8 5.5,6.9 C5.5,5 4.5,3.9 3,3.9 C1.6,3.9 0.6,5 0.5,6.5" transform="translate(3.75,0)"/><path d="M0.7,2.5 C0.7,1 1.7,0 3,0 C4.5,0 5.3,1 5.3,2.5 C5.3,4.2 4.3,5.3 0.5,10 L5.5,10" transform="translate(10.4,0)"/></g>
<g transform="translate(614.5,157) rotate(-90) scale(1.06,1.06) translate(-9.15,-5)" fill="none" stroke="#3c3c3c" stroke-width="0.8" stroke-linecap="round" stroke-linejoin="round"><path d="M0.9,0 L5.3,0 L2.8,4 C4.5,4 5.5,5.2 5.5,7 C5.5,9 4.3,10 3,10 C1.7,10 0.8,9.3 0.5,8.2" transform="translate(-0.5,0)"/><path d="M0.5,0 L5.5,0 L2,10" transform="translate(6.15,0)"/><path d="M3,0 C1.2,0 0.5,2.5 0.5,5 C0.5,7.5 1.2,10 3,10 C4.8,10 5.5,7.5 5.5,5 C5.5,2.5 4.8,0 3,0 Z" transform="translate(12.8,0)"/></g>
<defs><clipPath id="mclip"><path d="M348.1,484.2 L422.2,484.2 L422.2,437.6 L470,437.6 L470,520 L340,520 Z"/></clipPath></defs>
<g clip-path="url(#mclip)">
<circle cx="405.5" cy="456.5" r="53" stroke="#777" stroke-width="0.6" fill="none"/>
<circle cx="405.5" cy="456.5" r="40.6" stroke="#3a3a3a" stroke-width="1.0" fill="none"/>
<circle cx="405.5" cy="456.5" r="37" stroke="#3a3a3a" stroke-width="1.0" fill="none"/>
<circle cx="405.5" cy="456.5" r="25.8" stroke="#3a3a3a" stroke-width="1.0" fill="none"/>
<line x1="374.24" y1="483.06" x2="365.15" y2="490.27" stroke="#3a3a3a" stroke-width="0.9"/>
<line x1="372.5" y1="480.87" x2="363.41" y2="488.08" stroke="#3a3a3a" stroke-width="0.9"/>
<line x1="380.22" y1="488.81" x2="372.76" y2="497.69" stroke="#3a3a3a" stroke-width="0.9"/>
<line x1="378.07" y1="487.01" x2="370.62" y2="495.89" stroke="#3a3a3a" stroke-width="0.9"/>
<line x1="387.23" y1="493.23" x2="381.71" y2="503.44" stroke="#3a3a3a" stroke-width="0.9"/>
<line x1="384.77" y1="491.9" x2="379.25" y2="502.1" stroke="#3a3a3a" stroke-width="0.9"/>
<line x1="394.99" y1="496.15" x2="391.64" y2="507.26" stroke="#3a3a3a" stroke-width="0.9"/>
<line x1="392.31" y1="495.35" x2="388.96" y2="506.45" stroke="#3a3a3a" stroke-width="0.9"/>
<line x1="403.18" y1="497.46" x2="402.13" y2="509.01" stroke="#3a3a3a" stroke-width="0.9"/>
<line x1="400.39" y1="497.2" x2="399.34" y2="508.76" stroke="#3a3a3a" stroke-width="0.9"/>
<line x1="411.46" y1="497.09" x2="412.75" y2="508.62" stroke="#3a3a3a" stroke-width="0.9"/>
<line x1="408.68" y1="497.4" x2="409.97" y2="508.93" stroke="#3a3a3a" stroke-width="0.9"/>
<line x1="419.5" y1="495.06" x2="423.09" y2="506.09" stroke="#3a3a3a" stroke-width="0.9"/>
<line x1="416.84" y1="495.93" x2="420.42" y2="506.96" stroke="#3a3a3a" stroke-width="0.9"/>
<line x1="426.97" y1="491.46" x2="432.7" y2="501.54" stroke="#3a3a3a" stroke-width="0.9"/>
<line x1="424.53" y1="492.84" x2="430.26" y2="502.93" stroke="#3a3a3a" stroke-width="0.9"/>
<line x1="433.56" y1="486.43" x2="441.2" y2="495.15" stroke="#3a3a3a" stroke-width="0.9"/>
<line x1="431.45" y1="488.27" x2="439.09" y2="497" stroke="#3a3a3a" stroke-width="0.9"/>
<line x1="439" y1="480.17" x2="448.24" y2="487.19" stroke="#3a3a3a" stroke-width="0.9"/>
<line x1="437.31" y1="482.4" x2="446.55" y2="489.42" stroke="#3a3a3a" stroke-width="0.9"/>
<line x1="443.08" y1="472.95" x2="453.54" y2="477.97" stroke="#3a3a3a" stroke-width="0.9"/>
<line x1="441.87" y1="475.48" x2="452.33" y2="480.49" stroke="#3a3a3a" stroke-width="0.9"/>
<line x1="445.62" y1="465.06" x2="456.88" y2="467.87" stroke="#3a3a3a" stroke-width="0.9"/>
<line x1="444.94" y1="467.78" x2="456.2" y2="470.58" stroke="#3a3a3a" stroke-width="0.9"/>
<line x1="446.52" y1="456.82" x2="458.11" y2="457.3" stroke="#3a3a3a" stroke-width="0.9"/>
<line x1="446.41" y1="459.62" x2="458" y2="460.1" stroke="#3a3a3a" stroke-width="0.9"/>
<line x1="445.75" y1="448.56" x2="457.2" y2="446.71" stroke="#3a3a3a" stroke-width="0.9"/>
<line x1="446.2" y1="451.33" x2="457.65" y2="449.47" stroke="#3a3a3a" stroke-width="0.9"/>
<circle cx="436.2" cy="456.5" r="2.3" stroke="#3a3a3a" stroke-width="0.8" fill="none"/>
<circle cx="427.21" cy="478.21" r="2.3" stroke="#3a3a3a" stroke-width="0.8" fill="none"/>
<circle cx="405.5" cy="487.2" r="2.3" stroke="#3a3a3a" stroke-width="0.8" fill="none"/>
</g>
<line x1="418.2" y1="403.4" x2="441.2" y2="380.2" stroke="#555" stroke-width="0.9"/>
<line x1="441.2" y1="380.2" x2="481.5" y2="421.3" stroke="#555" stroke-width="0.9"/>
<line x1="481.5" y1="421.3" x2="462" y2="440.8" stroke="#555" stroke-width="0.9"/>
<line x1="421.7" y1="399.7" x2="439.7" y2="416.9" stroke="#555" stroke-width="0.9"/>
<line x1="423.4" y1="400.3" x2="441.2" y2="382.2" stroke="#555" stroke-width="0.8"/>
<line x1="423.6" y1="400.4" x2="440.4" y2="416.2" stroke="#555" stroke-width="0.8"/>
<line x1="479.4" y1="421.4" x2="471.5" y2="429.4" stroke="#555" stroke-width="0.8"/>
<line x1="430.7" y1="410.9" x2="423.2" y2="418.3" stroke="#555" stroke-width="0.8"/>
<line x1="432" y1="412" x2="424.4" y2="419.4" stroke="#555" stroke-width="0.8"/>
<line x1="438.2" y1="416.9" x2="432.9" y2="421.3" stroke="#555" stroke-width="0.8"/>
<line x1="439.4" y1="417.9" x2="434.2" y2="422.2" stroke="#555" stroke-width="0.8"/>
<line x1="458.3" y1="442.3" x2="447.1" y2="453.5" stroke="#555" stroke-width="0.9"/>
<line x1="455.4" y1="440.8" x2="445.6" y2="448.6" stroke="#555" stroke-width="0.8"/>
<line x1="331.5" y1="375" x2="331.5" y2="526" stroke="#484848" stroke-width="1.0"/>
<line x1="422.5" y1="375" x2="422.5" y2="484" stroke="#3a3a3a" stroke-width="0.9"/>
<rect x="337.5" y="409.5" width="84" height="4" stroke="#3a3a3a" stroke-width="0.9" fill="#fff"/>
<line x1="331.7" y1="413.5" x2="538" y2="413.5" stroke="#6a6a6a" stroke-width="1.0"/>
<line x1="348.5" y1="413.7" x2="348.5" y2="484" stroke="#3a3a3a" stroke-width="1.0"/>
<line x1="404.5" y1="413.7" x2="404.5" y2="484" stroke="#3a3a3a" stroke-width="1.0"/>
<line x1="348.1" y1="484.5" x2="538" y2="484.5" stroke="#3a3a3a" stroke-width="0.9"/>
<line x1="349.5" y1="483.5" x2="404" y2="483.5" stroke="#3a3a3a" stroke-width="0.9"/>
<line x1="376.5" y1="413.7" x2="376.5" y2="484" stroke="#3a3a3a" stroke-width="0.9" stroke-dasharray="12 2.2 3 2.2"/>
<rect x="343.5" y="405.5" width="7" height="4" stroke="#3a3a3a" stroke-width="0.9" fill="none"/>
<rect x="362.5" y="405.5" width="7" height="4" stroke="#3a3a3a" stroke-width="0.9" fill="none"/>
<path d="M366.2,405.6 Q368.5,400.6 376.2,400.2 Q383.8,400.6 386.1,405.6 Z" stroke="#3a3a3a" stroke-width="1.0" fill="none"/>
<line x1="368" y1="403.3" x2="384.4" y2="403.3" stroke="#333" stroke-width="1.6"/>
<line x1="369.5" y1="407.5" x2="404.9" y2="407.5" stroke="#3a3a3a" stroke-width="0.9"/>
<path d="M388.0,406.4 L391,409.4 M386.1,405.6 L404.9,405.6" stroke="#3a3a3a" stroke-width="0.6" fill="none"/>
<path d="M392,406.4 Q402,403.4 413.2,404.6" stroke="#3a3a3a" stroke-width="0.6" fill="none"/>
<rect x="413.5" y="405.5" width="7" height="4" stroke="#3a3a3a" stroke-width="0.9" fill="none"/>
<line x1="354" y1="411.5" x2="400" y2="411.5" stroke="#3a3a3a" stroke-width="0.9"/>
<line x1="354.5" y1="409.8" x2="354.5" y2="413.5" stroke="#3a3a3a" stroke-width="0.9"/>
<line x1="360.5" y1="409.8" x2="360.5" y2="413.5" stroke="#3a3a3a" stroke-width="0.9"/>
<line x1="366.5" y1="409.8" x2="366.5" y2="413.5" stroke="#3a3a3a" stroke-width="0.9"/>
<line x1="404.5" y1="409.8" x2="404.5" y2="413.5" stroke="#3a3a3a" stroke-width="0.9"/>
<circle cx="338.8" cy="422.2" r="2.4" stroke="#3a3a3a" stroke-width="0.9" fill="#fff"/>
<circle cx="413.8" cy="422.2" r="2.4" stroke="#3a3a3a" stroke-width="0.9" fill="#fff"/>
<circle cx="338.8" cy="474.8" r="2.4" stroke="#3a3a3a" stroke-width="0.9" fill="#fff"/>
<circle cx="413.2" cy="474.8" r="2.4" stroke="#3a3a3a" stroke-width="0.9" fill="#fff"/>
<line x1="336.5" y1="474.8" x2="336.5" y2="494.7" stroke="#3a3a3a" stroke-width="0.9"/>
<line x1="341.5" y1="474.8" x2="341.5" y2="494.7" stroke="#3a3a3a" stroke-width="0.9"/>
<line x1="338.5" y1="477.2" x2="338.5" y2="553.8" stroke="#484848" stroke-width="1.0"/>
<line x1="338.5" y1="390.5" x2="338.5" y2="419.8" stroke="#484848" stroke-width="1.0"/>
<line x1="413.5" y1="390.5" x2="413.5" y2="419.8" stroke="#484848" stroke-width="1.0"/>
<rect x="423.5" y="420.5" width="12" height="17" stroke="#3a3a3a" stroke-width="1.0" fill="#fff"/>
<line x1="424.5" y1="420.9" x2="424.5" y2="437.5" stroke="#3a3a3a" stroke-width="0.9"/>
<rect x="435.5" y="419.5" width="3" height="20" stroke="#3a3a3a" stroke-width="0.9" fill="#fff"/>
<rect x="438.5" y="418.5" width="17" height="22" stroke="#3a3a3a" stroke-width="1.0" fill="#fff"/>
<line x1="440.5" y1="418.7" x2="440.5" y2="440.3" stroke="#3a3a3a" stroke-width="0.9"/>
<rect x="455.5" y="417.5" width="17" height="24" stroke="#111" stroke-width="1.0" fill="#111"/>
<line x1="456.4" y1="420.5" x2="471.6" y2="420.5" stroke="#ccc" stroke-width="0.9"/>
<line x1="456.4" y1="428.5" x2="471.6" y2="428.5" stroke="#ccc" stroke-width="0.9"/>
<line x1="456.4" y1="437.5" x2="471.6" y2="437.5" stroke="#ccc" stroke-width="0.9"/>
<line x1="416.2" y1="422.5" x2="511.8" y2="422.5" stroke="#484848" stroke-width="1.0"/>
<line x1="415.6" y1="475.5" x2="511.8" y2="475.5" stroke="#484848" stroke-width="1.0"/>
<line x1="237.5" y1="402.8" x2="237.5" y2="475" stroke="#3a3a3a" stroke-width="0.9"/>
<line x1="238.5" y1="402.8" x2="238.5" y2="475" stroke="#3a3a3a" stroke-width="0.9"/>
<line x1="237" y1="402.5" x2="240.1" y2="402.5" stroke="#3a3a3a" stroke-width="0.9"/>
<line x1="237" y1="475.5" x2="240.1" y2="475.5" stroke="#3a3a3a" stroke-width="0.9"/>
<rect x="240.5" y="388.5" width="16" height="100" stroke="#3a3a3a" stroke-width="1.0" fill="#fff"/>
<line x1="240.5" y1="394.8" x2="256.5" y2="394.8" stroke="#3a3a3a" stroke-width="1.3"/>
<line x1="240.5" y1="413.6" x2="256.5" y2="413.6" stroke="#3a3a3a" stroke-width="1.7"/>
<line x1="240.5" y1="463.4" x2="256.5" y2="463.4" stroke="#3a3a3a" stroke-width="1.7"/>
<line x1="240.5" y1="482.4" x2="256.5" y2="482.4" stroke="#3a3a3a" stroke-width="1.3"/>
<rect x="256.5" y="382.5" width="17" height="112" stroke="#3a3a3a" stroke-width="1.0" fill="#fff"/>
<rect x="273.5" y="384.5" width="6" height="108" stroke="#3a3a3a" stroke-width="1.0" fill="#fff"/>
<rect x="279.5" y="388.5" width="7" height="101" stroke="#3a3a3a" stroke-width="1.0" fill="#fff"/>
<line x1="279.5" y1="396.5" x2="286.8" y2="396.5" stroke="#3a3a3a" stroke-width="0.9"/>
<line x1="279.5" y1="397.5" x2="286.8" y2="397.5" stroke="#3a3a3a" stroke-width="0.9"/>
<line x1="279.5" y1="412.5" x2="286.8" y2="412.5" stroke="#3a3a3a" stroke-width="0.9"/>
<line x1="279.5" y1="427.5" x2="286.8" y2="427.5" stroke="#3a3a3a" stroke-width="0.9"/>
<line x1="279.5" y1="429.5" x2="286.8" y2="429.5" stroke="#3a3a3a" stroke-width="0.9"/>
<line x1="279.5" y1="447.5" x2="286.8" y2="447.5" stroke="#3a3a3a" stroke-width="0.9"/>
<line x1="279.5" y1="449.5" x2="286.8" y2="449.5" stroke="#3a3a3a" stroke-width="0.9"/>
<line x1="279.5" y1="464.5" x2="286.8" y2="464.5" stroke="#3a3a3a" stroke-width="0.9"/>
<line x1="279.5" y1="479.5" x2="286.8" y2="479.5" stroke="#3a3a3a" stroke-width="0.9"/>
<line x1="279.5" y1="480.5" x2="286.8" y2="480.5" stroke="#3a3a3a" stroke-width="0.9"/>
<rect x="286.5" y="390.5" width="3" height="9" stroke="#3a3a3a" stroke-width="0.9" fill="#fff"/>
<rect x="289.5" y="392.5" width="2" height="6" stroke="#3a3a3a" stroke-width="0.9" fill="#fff"/>
<line x1="286.8" y1="395.5" x2="289.6" y2="395.5" stroke="#3a3a3a" stroke-width="0.9"/>
<rect x="286.5" y="416.5" width="3" height="8" stroke="#3a3a3a" stroke-width="0.9" fill="#fff"/>
<rect x="289.5" y="417.5" width="2" height="6" stroke="#3a3a3a" stroke-width="0.9" fill="#fff"/>
<line x1="286.8" y1="420.5" x2="289.6" y2="420.5" stroke="#3a3a3a" stroke-width="0.9"/>
<rect x="286.5" y="452.5" width="3" height="9" stroke="#3a3a3a" stroke-width="0.9" fill="#fff"/>
<rect x="289.5" y="453.5" width="2" height="6" stroke="#3a3a3a" stroke-width="0.9" fill="#fff"/>
<line x1="286.8" y1="456.5" x2="289.6" y2="456.5" stroke="#3a3a3a" stroke-width="0.9"/>
<rect x="286.5" y="477.5" width="3" height="9" stroke="#3a3a3a" stroke-width="0.9" fill="#fff"/>
<rect x="289.5" y="479.5" width="2" height="6" stroke="#3a3a3a" stroke-width="0.9" fill="#fff"/>
<line x1="286.8" y1="482.5" x2="289.6" y2="482.5" stroke="#3a3a3a" stroke-width="0.9"/>
<path d="M286.8,399.6 L305.9,406.5 L305.9,470.5 L286.8,477.4" stroke="#3a3a3a" stroke-width="1.0" fill="none"/>
<circle cx="293.3" cy="438.7" r="1.9" stroke="#3a3a3a" stroke-width="0.8" fill="none"/>
<path d="M305.9,411.2 L321.0,411.2 L321.0,414.8 L331.7,414.8" stroke="#3a3a3a" stroke-width="1.0" fill="none"/>
<path d="M305.9,465.8 L321.0,465.8 L321.0,462.2 L331.7,462.2" stroke="#3a3a3a" stroke-width="1.0" fill="none"/>
<line x1="305.9" y1="416.5" x2="331.7" y2="416.5" stroke="#7a7a7a" stroke-width="1.0"/>
<line x1="305.9" y1="423.5" x2="331.7" y2="423.5" stroke="#6a6a6a" stroke-width="1.0"/>
<line x1="305.9" y1="427.5" x2="331.7" y2="427.5" stroke="#6a6a6a" stroke-width="1.0"/>
<line x1="305.9" y1="437.5" x2="331.7" y2="437.5" stroke="#555" stroke-width="1.0"/>
<line x1="305.9" y1="440.5" x2="331.7" y2="440.5" stroke="#3a3a3a" stroke-width="1.0"/>
<line x1="305.9" y1="450.5" x2="331.7" y2="450.5" stroke="#6a6a6a" stroke-width="1.0"/>
<line x1="305.9" y1="454.5" x2="331.7" y2="454.5" stroke="#6a6a6a" stroke-width="1.0"/>
<line x1="305.9" y1="461.5" x2="331.7" y2="461.5" stroke="#7a7a7a" stroke-width="1.0"/>
<line x1="306.5" y1="424.8" x2="306.5" y2="429.6" stroke="#222" stroke-width="1.4"/>
<circle cx="256.4" cy="438.5" r="15.7" stroke="#2a2a2a" stroke-width="1.7" fill="#fff"/>
<line x1="268.6" y1="438.67" x2="271.38" y2="439.24" stroke="#3a3a3a" stroke-width="0.9"/>
<line x1="268.17" y1="441.7" x2="271.01" y2="441.91" stroke="#3a3a3a" stroke-width="0.9"/>
<line x1="266.88" y1="444.74" x2="269" y2="446.64" stroke="#3a3a3a" stroke-width="0.9"/>
<line x1="264.99" y1="447.16" x2="267.34" y2="448.76" stroke="#3a3a3a" stroke-width="0.9"/>
<line x1="262.36" y1="449.15" x2="263.25" y2="451.85" stroke="#3a3a3a" stroke-width="0.9"/>
<line x1="259.51" y1="450.3" x2="260.75" y2="452.86" stroke="#3a3a3a" stroke-width="0.9"/>
<line x1="256.23" y1="450.7" x2="255.66" y2="453.48" stroke="#3a3a3a" stroke-width="0.9"/>
<line x1="253.2" y1="450.27" x2="252.99" y2="453.11" stroke="#3a3a3a" stroke-width="0.9"/>
<line x1="250.16" y1="448.98" x2="248.26" y2="451.1" stroke="#3a3a3a" stroke-width="0.9"/>
<line x1="247.74" y1="447.09" x2="246.14" y2="449.44" stroke="#3a3a3a" stroke-width="0.9"/>
<line x1="245.75" y1="444.46" x2="243.05" y2="445.35" stroke="#3a3a3a" stroke-width="0.9"/>
<line x1="244.6" y1="441.61" x2="242.04" y2="442.85" stroke="#3a3a3a" stroke-width="0.9"/>
<line x1="244.2" y1="438.33" x2="241.42" y2="437.76" stroke="#3a3a3a" stroke-width="0.9"/>
<line x1="244.63" y1="435.3" x2="241.79" y2="435.09" stroke="#3a3a3a" stroke-width="0.9"/>
<line x1="245.92" y1="432.26" x2="243.8" y2="430.36" stroke="#3a3a3a" stroke-width="0.9"/>
<line x1="247.81" y1="429.84" x2="245.46" y2="428.24" stroke="#3a3a3a" stroke-width="0.9"/>
<line x1="250.44" y1="427.85" x2="249.55" y2="425.15" stroke="#3a3a3a" stroke-width="0.9"/>
<line x1="253.29" y1="426.7" x2="252.05" y2="424.14" stroke="#3a3a3a" stroke-width="0.9"/>
<line x1="256.57" y1="426.3" x2="257.14" y2="423.52" stroke="#3a3a3a" stroke-width="0.9"/>
<line x1="259.6" y1="426.73" x2="259.81" y2="423.89" stroke="#3a3a3a" stroke-width="0.9"/>
<line x1="262.64" y1="428.02" x2="264.54" y2="425.9" stroke="#3a3a3a" stroke-width="0.9"/>
<line x1="265.06" y1="429.91" x2="266.66" y2="427.56" stroke="#3a3a3a" stroke-width="0.9"/>
<line x1="267.05" y1="432.54" x2="269.75" y2="431.65" stroke="#3a3a3a" stroke-width="0.9"/>
<line x1="268.2" y1="435.39" x2="270.76" y2="434.15" stroke="#3a3a3a" stroke-width="0.9"/>
<circle cx="256.4" cy="438.5" r="9.6" stroke="#3a3a3a" stroke-width="1.0" fill="none"/>
<circle cx="256.4" cy="438.5" r="7" stroke="#3a3a3a" stroke-width="0.7" fill="none"/>
<circle cx="256.4" cy="438.5" r="5.4" stroke="#3a3a3a" stroke-width="1.2" fill="none"/>
<line x1="256.5" y1="440.5" x2="256.5" y2="553.8" stroke="#484848" stroke-width="1.0"/>
<line x1="331.7" y1="375.5" x2="422.2" y2="375.5" stroke="#484848" stroke-width="1.0"/>
<path d="M331.7,375.7 L336.7,374.75 L336.7,376.65 Z" fill="#262626" stroke="none"/>
<path d="M422.2,375.7 L417.2,376.65 L417.2,374.75 Z" fill="#262626" stroke="none"/>
<line x1="338.4" y1="391.5" x2="413.9" y2="391.5" stroke="#484848" stroke-width="1.0"/>
<path d="M338.4,391.4 L343.4,390.45 L343.4,392.35 Z" fill="#262626" stroke="none"/>
<path d="M413.9,391.4 L408.9,392.35 L408.9,390.45 Z" fill="#262626" stroke="none"/>
<line x1="536.5" y1="413.7" x2="536.5" y2="484" stroke="#484848" stroke-width="1.0"/>
<path d="M536.1,413.7 L537.05,418.7 L535.15,418.7 Z" fill="#262626" stroke="none"/>
<path d="M536.1,484 L535.15,479 L537.05,479 Z" fill="#262626" stroke="none"/>
<line x1="510.5" y1="422.4" x2="510.5" y2="475.3" stroke="#484848" stroke-width="1.0"/>
<path d="M510.4,422.4 L511.35,427.4 L509.45,427.4 Z" fill="#262626" stroke="none"/>
<path d="M510.4,475.3 L509.45,470.3 L511.35,470.3 Z" fill="#262626" stroke="none"/>
<line x1="307.8" y1="494.5" x2="347.4" y2="494.5" stroke="#484848" stroke-width="1.0"/>
<path d="M336.5,494.7 L331.5,495.65 L331.5,493.75 Z" fill="#262626" stroke="none"/>
<path d="M341.2,494.7 L346.2,493.75 L346.2,495.65 Z" fill="#262626" stroke="none"/>
<line x1="281" y1="524.5" x2="347.4" y2="524.5" stroke="#484848" stroke-width="1.0"/>
<path d="M331.7,524.7 L326.7,525.65 L326.7,523.75 Z" fill="#262626" stroke="none"/>
<path d="M338.8,524.7 L343.8,523.75 L343.8,525.65 Z" fill="#262626" stroke="none"/>
<line x1="256.4" y1="552.5" x2="338.8" y2="552.5" stroke="#484848" stroke-width="1.0"/>
<path d="M256.4,552.3 L261.4,551.35 L261.4,553.25 Z" fill="#262626" stroke="none"/>
<path d="M338.8,552.3 L333.8,553.25 L333.8,551.35 Z" fill="#262626" stroke="none"/>
<g transform="translate(371,368.3) rotate(0) scale(1.06,1.06) translate(-7.95,-5)" fill="none" stroke="#3c3c3c" stroke-width="0.8" stroke-linecap="round" stroke-linejoin="round"><path d="M1.6,1.5 L2.8,0 L2.8,10 M1.5,10 L4.1,10" transform="translate(-1.5,0)"/><path d="M0.7,2.5 C0.7,1 1.7,0 3,0 C4.5,0 5.3,1 5.3,2.5 C5.3,4.2 4.3,5.3 0.5,10 L5.5,10" transform="translate(3.75,0)"/><path d="M5,0 L1.2,0 L0.8,4.5 C1.5,3.8 2.3,3.6 3,3.6 C4.5,3.6 5.5,5 5.5,6.8 C5.5,8.8 4.3,10 3,10 C1.7,10 0.8,9.3 0.5,8.2" transform="translate(10.4,0)"/></g>
<g transform="translate(370.8,383.9) rotate(0) scale(1.06,1.06) translate(-7.95,-5)" fill="none" stroke="#3c3c3c" stroke-width="0.8" stroke-linecap="round" stroke-linejoin="round"><path d="M1.6,1.5 L2.8,0 L2.8,10 M1.5,10 L4.1,10" transform="translate(-1.5,0)"/><path d="M3,0 C1.2,0 0.5,2.5 0.5,5 C0.5,7.5 1.2,10 3,10 C4.8,10 5.5,7.5 5.5,5 C5.5,2.5 4.8,0 3,0 Z" transform="translate(3.75,0)"/><path d="M0.9,0 L5.3,0 L2.8,4 C4.5,4 5.5,5.2 5.5,7 C5.5,9 4.3,10 3,10 C1.7,10 0.8,9.3 0.5,8.2" transform="translate(10.4,0)"/></g>
<g transform="translate(502,448) rotate(-90) scale(1.06,1.06) translate(-5.83,-5)" fill="none" stroke="#3c3c3c" stroke-width="0.8" stroke-linecap="round" stroke-linejoin="round"><path d="M0.5,0 L5.5,0 L2,10" transform="translate(-0.5,0)"/><path d="M0.9,0 L5.3,0 L2.8,4 C4.5,4 5.5,5.2 5.5,7 C5.5,9 4.3,10 3,10 C1.7,10 0.8,9.3 0.5,8.2" transform="translate(6.15,0)"/></g>
<g transform="translate(528,448) rotate(-90) scale(1.06,1.06) translate(-5.83,-5)" fill="none" stroke="#3c3c3c" stroke-width="0.8" stroke-linecap="round" stroke-linejoin="round"><path d="M5.5,3.5 C5.4,5 4.4,6.1 3,6.1 C1.5,6.1 0.5,5 0.5,3.1 C0.5,1.2 1.5,0 3,0 C4.5,0 5.5,1.5 5.5,4.5 C5.5,8 4.5,10 2.8,10 C1.8,10 1.1,9.5 0.8,8.5" transform="translate(-0.5,0)"/><path d="M5.2,1.5 C4.9,0.5 4.2,0 3.2,0 C1.5,0 0.5,2 0.5,5.5 C0.5,8.5 1.5,10 3,10 C4.5,10 5.5,8.8 5.5,6.9 C5.5,5 4.5,3.9 3,3.9 C1.6,3.9 0.6,5 0.5,6.5" transform="translate(6.15,0)"/></g>
<g transform="translate(316,487) rotate(0) scale(1.06,1.06) translate(-6.03,-5)" fill="none" stroke="#3c3c3c" stroke-width="0.8" stroke-linecap="round" stroke-linejoin="round"><path d="M3,2 C1.5,2 0.5,3.8 0.5,6 C0.5,8.2 1.5,10 3,10 C4.5,10 5.5,8.2 5.5,6 C5.5,3.8 4.5,2 3,2Z M0.3,10.8 L5.7,1.2" transform="translate(-0.3,0)"/><path d="M0.5,0 L5.5,0 L2,10" transform="translate(6.55,0)"/></g>
<g transform="translate(294.4,517) rotate(0) scale(1.06,1.06) translate(-12.4,-5)" fill="none" stroke="#3c3c3c" stroke-width="0.8" stroke-linecap="round" stroke-linejoin="round"><path d="M1.6,1.5 L2.8,0 L2.8,10 M1.5,10 L4.1,10" transform="translate(-1.5,0)"/><path d="M3,0 C1.2,0 0.5,2.5 0.5,5 C0.5,7.5 1.2,10 3,10 C4.8,10 5.5,7.5 5.5,5 C5.5,2.5 4.8,0 3,0 Z" transform="translate(3.75,0)"/><path d="M1.2,9.2 L1.2,10" transform="translate(10,0)"/><path d="M5,0 L1.2,0 L0.8,4.5 C1.5,3.8 2.3,3.6 3,3.6 C4.5,3.6 5.5,5 5.5,6.8 C5.5,8.8 4.3,10 3,10 C1.7,10 0.8,9.3 0.5,8.2" transform="translate(12.65,0)"/><path d="M3,0 C1.2,0 0.5,2.5 0.5,5 C0.5,7.5 1.2,10 3,10 C4.8,10 5.5,7.5 5.5,5 C5.5,2.5 4.8,0 3,0 Z" transform="translate(19.3,0)"/></g>
<g transform="translate(294.6,544.3) rotate(0) scale(1.06,1.06) translate(-6.75,-5)" fill="none" stroke="#3c3c3c" stroke-width="0.8" stroke-linecap="round" stroke-linejoin="round"><path d="M1.6,1.5 L2.8,0 L2.8,10 M1.5,10 L4.1,10" transform="translate(-1.5,0)"/><path d="M1.6,1.5 L2.8,0 L2.8,10 M1.5,10 L4.1,10" transform="translate(2.75,0)"/><path d="M0.9,0 L5.3,0 L2.8,4 C4.5,4 5.5,5.2 5.5,7 C5.5,9 4.3,10 3,10 C1.7,10 0.8,9.3 0.5,8.2" transform="translate(8,0)"/></g>
<path d="M80.2,373.8 h3.6 M80.4,375.4 h3.2 M80.4,377 h3.2 M80.2,378.6 h3.7 M80.9,373.2 v5.8 M82.2,373.6 v5.2 M83.3,373.2 v5.8" stroke="#222" stroke-width="0.9" fill="none"/>
<path d="M84.2,373.8 h3.6 M84.4,375.4 h3.2 M84.4,377 h3.2 M84.2,378.6 h3.7 M84.9,373.2 v5.8 M86.2,373.6 v5.2 M87.3,373.2 v5.8" stroke="#222" stroke-width="0.9" fill="none"/>
<g transform="translate(89.8,376.2) rotate(0) scale(0.45,0.56) translate(-1.3,-5)" fill="none" stroke="#222" stroke-width="1.88" stroke-linecap="round" stroke-linejoin="round"><path d="M1.6,1.5 L2.8,0 L2.8,10 M1.5,10 L4.1,10" transform="translate(-1.5,0)"/></g>
<g transform="translate(92.8,376.2) rotate(0) scale(0.56,0.56) translate(-0.3,-5)" fill="none" stroke="#222" stroke-width="1.79" stroke-linecap="round" stroke-linejoin="round"><path d="M1.2,3 L1.2,3.8 M1.2,9.2 L1.2,10" transform="translate(-0.9,0)"/></g>
<g transform="translate(97.8,376.2) rotate(0) scale(0.35,0.56) translate(-2.5,-5)" fill="none" stroke="#222" stroke-width="2.09" stroke-linecap="round" stroke-linejoin="round"><path d="M0.7,2.5 C0.7,1 1.7,0 3,0 C4.5,0 5.3,1 5.3,2.5 C5.3,4.2 4.3,5.3 0.5,10 L5.5,10" transform="translate(-0.5,0)"/></g>
<path d="M357.6,342.4 h3.6 M357.8,344 h3.2 M357.8,345.6 h3.2 M357.6,347.2 h3.7 M358.3,341.8 v5.8 M359.6,342.2 v5.2 M360.7,341.8 v5.8" stroke="#222" stroke-width="0.9" fill="none"/>
<path d="M361.6,342.4 h3.6 M361.8,344 h3.2 M361.8,345.6 h3.2 M361.6,347.2 h3.7 M362.3,341.8 v5.8 M363.6,342.2 v5.2 M364.7,341.8 v5.8" stroke="#222" stroke-width="0.9" fill="none"/>
<g transform="translate(367.2,344.8) rotate(0) scale(0.45,0.56) translate(-1.3,-5)" fill="none" stroke="#222" stroke-width="1.88" stroke-linecap="round" stroke-linejoin="round"><path d="M1.6,1.5 L2.8,0 L2.8,10 M1.5,10 L4.1,10" transform="translate(-1.5,0)"/></g>
<g transform="translate(370.2,344.8) rotate(0) scale(0.56,0.56) translate(-0.3,-5)" fill="none" stroke="#222" stroke-width="1.79" stroke-linecap="round" stroke-linejoin="round"><path d="M1.2,3 L1.2,3.8 M1.2,9.2 L1.2,10" transform="translate(-0.9,0)"/></g>
<g transform="translate(375.2,344.8) rotate(0) scale(0.35,0.56) translate(-2.5,-5)" fill="none" stroke="#222" stroke-width="2.09" stroke-linecap="round" stroke-linejoin="round"><path d="M0.7,2.5 C0.7,1 1.7,0 3,0 C4.5,0 5.3,1 5.3,2.5 C5.3,4.2 4.3,5.3 0.5,10 L5.5,10" transform="translate(-0.5,0)"/></g>
<path d="M357.4,538.8 h3.6 M357.6,540.4 h3.2 M357.6,542 h3.2 M357.4,543.6 h3.7 M358.1,538.2 v5.8 M359.4,538.6 v5.2 M360.5,538.2 v5.8" stroke="#222" stroke-width="0.9" fill="none"/>
<path d="M361.4,538.8 h3.6 M361.6,540.4 h3.2 M361.6,542 h3.2 M361.4,543.6 h3.7 M362.1,538.2 v5.8 M363.4,538.6 v5.2 M364.5,538.2 v5.8" stroke="#222" stroke-width="0.9" fill="none"/>
<g transform="translate(367,541.2) rotate(0) scale(0.45,0.56) translate(-1.3,-5)" fill="none" stroke="#222" stroke-width="1.88" stroke-linecap="round" stroke-linejoin="round"><path d="M1.6,1.5 L2.8,0 L2.8,10 M1.5,10 L4.1,10" transform="translate(-1.5,0)"/></g>
<g transform="translate(370,541.2) rotate(0) scale(0.56,0.56) translate(-0.3,-5)" fill="none" stroke="#222" stroke-width="1.79" stroke-linecap="round" stroke-linejoin="round"><path d="M1.2,3 L1.2,3.8 M1.2,9.2 L1.2,10" transform="translate(-0.9,0)"/></g>
<g transform="translate(375,541.2) rotate(0) scale(0.35,0.56) translate(-2.5,-5)" fill="none" stroke="#222" stroke-width="2.09" stroke-linecap="round" stroke-linejoin="round"><path d="M0.7,2.5 C0.7,1 1.7,0 3,0 C4.5,0 5.3,1 5.3,2.5 C5.3,4.2 4.3,5.3 0.5,10 L5.5,10" transform="translate(-0.5,0)"/></g>
</svg>
</body></html>
